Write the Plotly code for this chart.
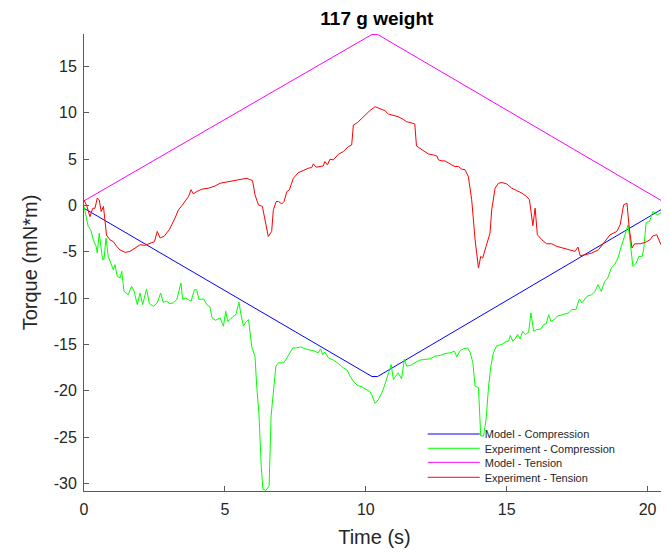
import plotly.graph_objects as go

# ---------------- data ----------------
model_t = [0, 10.22, 10.42, 20.62]
model_compression = [-0.3, -18.45, -18.45, -0.2]
model_tension = [0.5, 18.45, 18.45, 0.3]

exp_comp_t = [0, 0.07, 0.15, 0.24, 0.33, 0.43, 0.47, 0.54, 0.59, 0.66, 0.71, 0.78, 0.86, 0.94,
              1.04, 1.1, 1.18, 1.28, 1.34, 1.42, 1.57, 1.69, 1.78, 1.89, 1.99, 2.08, 2.22, 2.32,
              2.46, 2.6, 2.72, 2.81, 2.93, 3.05, 3.17, 3.29, 3.44, 3.5, 3.59, 3.7, 3.8, 3.92, 4.0,
              4.08, 4.24, 4.36, 4.47, 4.55, 4.67, 4.83, 4.95, 5.03, 5.1, 5.18, 5.27, 5.39, 5.5,
              5.57, 5.66, 5.74, 5.84, 5.95, 6.07, 6.13, 6.21, 6.29, 6.35, 6.45, 6.57, 6.64, 6.72,
              6.81, 6.9, 7.08, 7.17, 7.29, 7.41, 7.55, 7.69, 7.84, 8.02, 8.2, 8.31, 8.4, 8.47,
              8.55, 8.67, 8.85, 9.03, 9.2, 9.34, 9.44, 9.56, 9.7, 9.86, 10.03, 10.15, 10.21, 10.33,
              10.45, 10.57, 10.66, 10.74, 10.83, 10.9, 10.98, 11.06, 11.15, 11.27, 11.37, 11.45,
              11.57, 11.74, 11.92, 12.1, 12.28, 12.46, 12.64, 12.81, 12.99, 13.15, 13.23, 13.35,
              13.47, 13.61, 13.71, 13.8, 13.88, 14.0, 14.08, 14.18, 14.27, 14.36, 14.44, 14.53,
              14.65, 14.83, 14.98, 15.07, 15.13, 15.22, 15.3, 15.39, 15.48, 15.57, 15.66, 15.78,
              15.86, 15.96, 16.07, 16.22, 16.31, 16.41, 16.49, 16.57, 16.69, 16.79, 16.9, 17.02,
              17.2, 17.31, 17.46, 17.58, 17.67, 17.85, 18.02, 18.14, 18.24, 18.36, 18.48, 18.59,
              18.71, 18.83, 18.95, 19.07, 19.21, 19.31, 19.39, 19.48, 19.6, 19.69, 19.81, 19.87,
              19.95, 20.07, 20.19, 20.35, 20.47, 20.55, 20.62]
exp_compression = [-0.1, -1.0, -2.26, -2.62, -3.7, -4.41, -5.13, -2.98, -4.41, -5.85, -5.78, -3.52,
                   -5.49, -6.21, -6.93, -6.39, -7.64, -7.82, -7.1, -9.26, -9.62, -8.72, -9.26,
                   -10.69, -9.44, -10.69, -9.0, -10.58, -10.87, -10.51, -9.44, -10.44, -10.33,
                   -10.58, -10.51, -10.15, -8.36, -10.1, -9.98, -10.15, -10.33, -9.08, -9.08,
                   -10.15, -10.08, -10.69, -10.94, -12.13, -12.38, -12.13, -13.02, -11.41, -12.49,
                   -12.31, -12.02, -11.77, -10.44, -11.77, -13.02, -12.6, -12.31, -15.18, -16.33,
                   -19.48, -22.53, -28.09, -30.6, -30.75, -30.25, -22.71, -20.2, -17.33, -16.97,
                   -16.97, -16.61, -15.9, -15.36, -15.36, -15.25, -15.46, -15.61, -15.72, -15.9,
                   -15.46, -16.07, -15.82, -16.43, -16.68, -17.04, -17.51, -17.76, -18.41, -18.95,
                   -19.41, -19.56, -19.91, -20.1, -20.38, -21.35, -20.92, -20.2, -19.48, -18.59,
                   -17.87, -17.15, -18.77, -18.41, -18.05, -18.7, -16.61, -17.33, -17.26, -16.97,
                   -16.68, -16.61, -16.54, -16.25, -16.18, -15.97, -15.9, -15.72, -16.33, -15.65,
                   -15.46, -15.36, -15.9, -16.97, -19.48, -19.66, -24.86, -24.86, -23.07, -19.48,
                   -17.33, -15.9, -15.11, -15.0, -14.64, -14.64, -14.03, -14.64, -14.39, -13.92,
                   -14.39, -13.56, -13.92, -13.67, -11.59, -13.56, -13.38, -13.31, -12.85, -12.74,
                   -11.77, -12.49, -12.31, -11.95, -11.85, -11.77, -11.59, -11.23, -11.23, -10.08,
                   -10.51, -9.8, -9.62, -9.26, -8.54, -9.26, -8.18, -7.82, -6.75, -6.39, -5.67,
                   -4.41, -3.16, -2.08, -4.05, -6.57, -6.21, -5.49, -5.49, -4.59, -1.83, -1.72,
                   -0.65, -1.0, -0.83, -0.47, -0.18]

exp_tens_t = [0, 0.1, 0.21, 0.31, 0.39, 0.47, 0.54, 0.61, 0.69, 0.75, 0.8, 0.92, 1.04, 1.16, 1.28,
              1.46, 1.63, 1.81, 1.99, 2.16, 2.34, 2.5, 2.6, 2.7, 2.85, 3.03, 3.23, 3.35, 3.47,
              3.59, 3.71, 3.8, 3.88, 4.0, 4.18, 4.42, 4.65, 4.83, 5.12, 5.42, 5.6, 5.78, 5.86,
              5.98, 6.07, 6.19, 6.33, 6.43, 6.54, 6.66, 6.72, 6.82, 6.9, 7.02, 7.1, 7.2, 7.29,
              7.43, 7.61, 7.78, 7.96, 8.08, 8.14, 8.24, 8.37, 8.49, 8.55, 8.64, 8.73, 8.85, 9.03,
              9.2, 9.38, 9.5, 9.56, 9.7, 9.86, 10.03, 10.15, 10.33, 10.51, 10.68, 10.8, 10.98,
              11.15, 11.33, 11.45, 11.6, 11.74, 11.8, 11.92, 12.1, 12.22, 12.4, 12.52, 12.58,
              12.7, 12.81, 12.93, 13.05, 13.17, 13.29, 13.41, 13.52, 13.64, 13.76, 13.88, 14.0,
              14.08, 14.15, 14.27, 14.41, 14.47, 14.59, 14.71, 14.83, 15.0, 15.18, 15.36, 15.54,
              15.71, 15.81, 15.93, 16.01, 16.09, 16.25, 16.42, 16.6, 16.78, 16.9, 16.96, 17.2,
              17.43, 17.53, 17.61, 17.79, 18.02, 18.26, 18.44, 18.67, 18.91, 19.03, 19.15, 19.27,
              19.35, 19.45, 19.54, 19.74, 19.92, 20.09, 20.19, 20.33, 20.45, 20.62]
exp_tension = [0.6, -0.04, -1.2, -0.3, -0.3, 0.8, 0.6, -0.65, -0.1, -1.5, -3.2, -3.7, -3.9, -4.4,
               -4.8, -5.06, -4.95, -4.6, -4.23, -4.3, -4.05, -3.9, -2.8, -3.5, -3.3, -2.6, -1.36,
               -0.47, -0.04, 0.43, 0.97, 1.7, 1.26, 1.5, 1.76, 1.87, 2.1, 2.4, 2.58, 2.76, 2.87,
               2.94, 2.83, 2.69, 1.15, 0.07, -0.1, -1.54, -3.34, -2.8, -0.47, 0.43, 0.43, 0.18,
               0.43, 1.5, 1.69, 2.94, 3.55, 3.77, 4.02, 4.09, 4.49, 4.13, 4.2, 4.27, 4.74, 4.38,
               4.99, 4.92, 5.53, 5.81, 6.35, 6.53, 8.68, 8.93, 9.4, 9.94, 10.25, 10.66, 10.48,
               10.23, 9.87, 9.76, 9.58, 9.29, 9.04, 8.93, 8.79, 6.42, 6.17, 5.81, 5.56, 5.45, 5.35,
               4.92, 4.81, 4.81, 4.56, 4.38, 4.2, 4.2, 3.91, 3.87, 3.12, 0.61, -3.7, -6.75, -5.49,
               -5.67, -4.41, -2.98, -0.47, 1.87, 2.4, 2.48, 2.33, 1.87, 1.61, 1.33, 0.97, 0.61,
               -2.19, -0.29, -3.16, -3.7, -4.13, -4.13, -4.41, -4.5, -4.59, -4.77, -4.95, -4.48,
               -5.42, -5.31, -5.13, -4.77, -4.05, -3.16, -2.8, -2.08, 0.07, 0.25, -2.44, -4.59,
               -4.13, -4.13, -3.98, -3.7, -3.27, -3.16, -4.05, -4.95]

x_ticks = [0, 5, 10, 15, 20]
y_ticks = [-30, -25, -20, -15, -10, -5, 0, 5, 10, 15]
x_tick_text = [str(v) for v in x_ticks]
y_tick_text = [str(v) for v in y_ticks]   # plain hyphen minus, as in the reference

series_names = ["Model - Compression", "Experiment - Compression",
                "Model - Tension", "Experiment - Tension"]
series_colors = ["#0000ff", "#00ff00", "#ff00ff", "#ff0000"]

# ---------------- figure ----------------
FONT = "Liberation Sans, Arial, sans-serif"
TXT = "#262626"
fig = go.Figure()
series_x = [model_t, exp_comp_t, model_t, exp_tens_t]
series_y = [model_compression, exp_compression, model_tension, exp_tension]
legend_ids = ["legend", "legend2", "legend3", "legend4"]
for xs, ys, nm, col, lg in zip(series_x, series_y, series_names, series_colors, legend_ids):
    fig.add_trace(go.Scatter(x=xs, y=ys, mode="lines", name=nm, legend=lg,
                             line=dict(color=col, width=1)))

axis_common = dict(showgrid=False, zeroline=False, showline=True, linecolor="#595959",
                   linewidth=1, ticks="inside", ticklen=5, tickcolor="#595959",
                   tickfont=dict(family=FONT, size=16, color=TXT), mirror=False,
                   automargin=False)

legend_style = dict(x=0.583, xanchor="left", yanchor="middle", bgcolor="rgba(0,0,0,0)",
                    font=dict(family=FONT, size=11, color=TXT), itemwidth=52,
                    borderwidth=0)
legend_y = [0.1247, 0.0935, 0.0628, 0.0300]

# page body adds an 8 px offset; figure sized so the plot area lands where the reference has it
fig.update_layout(
    width=661, height=544,
    margin=dict(l=76, r=4, t=26, b=61),
    paper_bgcolor="white", plot_bgcolor="white",
    title=dict(text="<b>117 g weight</b>", x=0.558, xanchor="center", y=0.981, yanchor="middle",
               font=dict(family=FONT, size=19, color="black")),
    xaxis=dict(range=[0, 20.62], tickvals=x_ticks, ticktext=x_tick_text, ticklabelstandoff=4,
               title=dict(text="Time (s)", font=dict(family=FONT, size=20, color=TXT), standoff=12),
               **axis_common),
    yaxis=dict(range=[-30.8, 18.5], tickvals=y_ticks, ticktext=y_tick_text, ticklabelstandoff=3,
               title=dict(text="Torque (mN*m)", font=dict(family=FONT, size=20, color=TXT), standoff=10),
               **axis_common),
    showlegend=True,
)
for lg, yy in zip(legend_ids, legend_y):
    fig.update_layout({lg: dict(y=yy, **legend_style)})

fig.write_html("out.html")
